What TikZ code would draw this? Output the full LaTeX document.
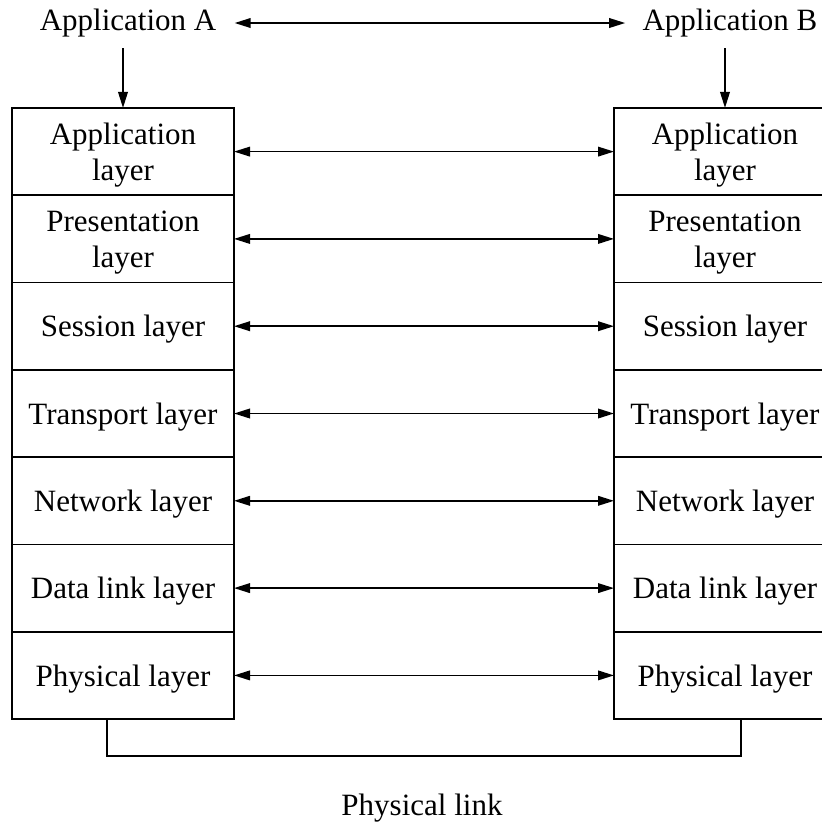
\documentclass[tikz,border=0pt]{standalone}
\usepackage{fontspec}
\setmainfont{Liberation Serif}
\usetikzlibrary{positioning,arrows.meta}

\begin{document}
\begin{tikzpicture}[
  x=0.5pt, y=-0.5pt,
  every node/.style={font=\fontsize{15.5pt}{18pt}\selectfont, align=center},
  layer/.style={draw, line width=0.9pt, minimum width=111pt, minimum height=43.65pt,
    inner sep=0pt, outer sep=0pt, text depth=0pt},
  peer/.style={{Triangle[length=8pt,width=4.8pt]}-{Triangle[length=8pt,width=4.8pt]}, line width=0.85pt},
  feed/.style={-{Triangle[length=8pt,width=4.8pt]}, line width=0.85pt}
]
\useasboundingbox (0,0) rectangle (822,827);
\clip (0,0) rectangle (822,827);

% end applications
\node[inner xsep=9pt, inner ysep=5.5pt] (appA) at (128,23) {Application A};
\node[inner xsep=8.5pt, inner ysep=5.5pt] (appB) at (730,23) {Application B};

% left stack
\node[layer] (Aapp) at (123,151.6) {Application\\layer};
\node[layer, below=0pt of Aapp] (Apre) {Presentation\\layer};
\node[layer, below=0pt of Apre] (Ases) {Session layer};
\node[layer, below=0pt of Ases] (Atra) {Transport layer};
\node[layer, below=0pt of Atra] (Anet) {Network layer};
\node[layer, below=0pt of Anet] (Adat) {Data link layer};
\node[layer, below=0pt of Adat] (Aphy) {Physical layer};

% right stack
\node[layer] (Bapp) at (725,151.6) {Application\\layer};
\node[layer, below=0pt of Bapp] (Bpre) {Presentation\\layer};
\node[layer, below=0pt of Bpre] (Bses) {Session layer};
\node[layer, below=0pt of Bses] (Btra) {Transport layer};
\node[layer, below=0pt of Btra] (Bnet) {Network layer};
\node[layer, below=0pt of Bnet] (Bdat) {Data link layer};
\node[layer, below=0pt of Bdat] (Bphy) {Physical layer};

\draw[peer] (appA.east) -- (appB.west);
\draw[feed] (Aapp.north |- appA.south) -- (Aapp.north);
\draw[feed] (Bapp.north |- appB.south) -- (Bapp.north);

% peer protocols
\draw[peer] (Aapp.east) -- (Bapp.west);
\draw[peer] (Apre.east) -- (Bpre.west);
\draw[peer] (Ases.east) -- (Bses.west);
\draw[peer] (Atra.east) -- (Btra.west);
\draw[peer] (Anet.east) -- (Bnet.west);
\draw[peer] (Adat.east) -- (Bdat.west);
\draw[peer] (Aphy.east) -- (Bphy.west);

% medium
\coordinate (linkA) at (107,756);
\coordinate (linkB) at (741,756);
\draw[line width=0.9pt] (Aphy.south -| linkA) -- (linkA) -- (linkB) -- (Bphy.south -| linkB);
\node (plink) at (422,808) {Physical link};
\end{tikzpicture}
\end{document}
